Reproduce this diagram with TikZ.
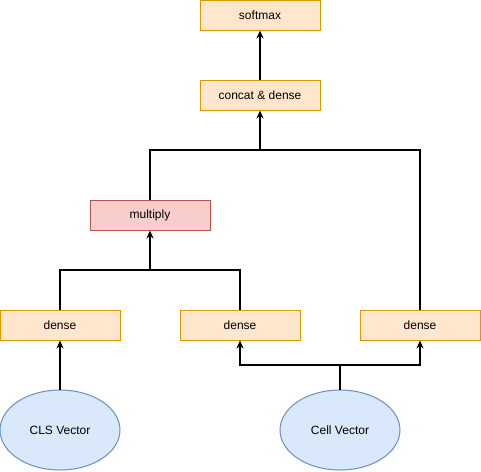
\documentclass[tikz,border=0pt]{standalone}
\usepackage{fontspec}
\setmainfont{Liberation Sans}
\usetikzlibrary{arrows.meta,shapes.geometric}
\definecolor{orfill}{HTML}{FFE6CC}
\definecolor{ordraw}{HTML}{D79B00}
\definecolor{rdfill}{HTML}{F8CECC}
\definecolor{rddraw}{HTML}{B85450}
\definecolor{blfill}{HTML}{DAE8FC}
\definecolor{bldraw}{HTML}{6C8EBF}
\begin{document}
\begin{tikzpicture}[x=1pt,y=-1pt,
  every node/.style={font=\fontsize{12}{14}\selectfont, inner sep=0pt},
  obox/.style={draw=ordraw, fill=orfill, line width=1pt, minimum width=120pt, minimum height=30pt},
  rbox/.style={draw=rddraw, fill=rdfill, line width=1pt, minimum width=120pt, minimum height=30pt},
  ell/.style={ellipse, draw=bldraw, fill=blfill, line width=1pt, minimum width=120pt, minimum height=80pt},
  conn/.style={line width=1.2pt, black},
  arr/.style={conn, -{Stealth[length=8pt,width=7pt,inset=2.5pt]}}]
\useasboundingbox (0,0) rectangle (481,471);
\node[obox] (soft) at (260,15) {softmax};
\node[obox] (concat) at (260,95) {concat \& dense};
\node[rbox] (mult) at (150,215) {multiply};
\node[obox] (d1) at (60,325) {dense};
\node[obox] (d2) at (240,325) {dense};
\node[obox] (d3) at (420,325) {dense};
\node[ell] (cls) at (60,430) {CLS Vector};
\node[ell] (cell) at (340,430) {Cell Vector};
\coordinate (j1) at (150,270);
\coordinate (j2) at (260,150);
\coordinate (j3) at (340,365);
% arrows
\draw[arr] (concat.north) -- (soft.south);
\draw[arr] (cls.north) -- (d1.south);
\draw[conn] (cell.north) -- (j3);
\draw[arr] (j3) -| (d2.south);
\draw[arr] (j3) -| (d3.south);
\draw[conn] (d1.north) |- (j1);
\draw[conn] (d2.north) |- (j1);
\draw[arr] (j1) -- (mult.south);
\draw[conn] (mult.north) |- (j2);
\draw[conn] (d3.north) |- (j2);
\draw[arr] (j2) -- (concat.south);
\end{tikzpicture}
\end{document}
